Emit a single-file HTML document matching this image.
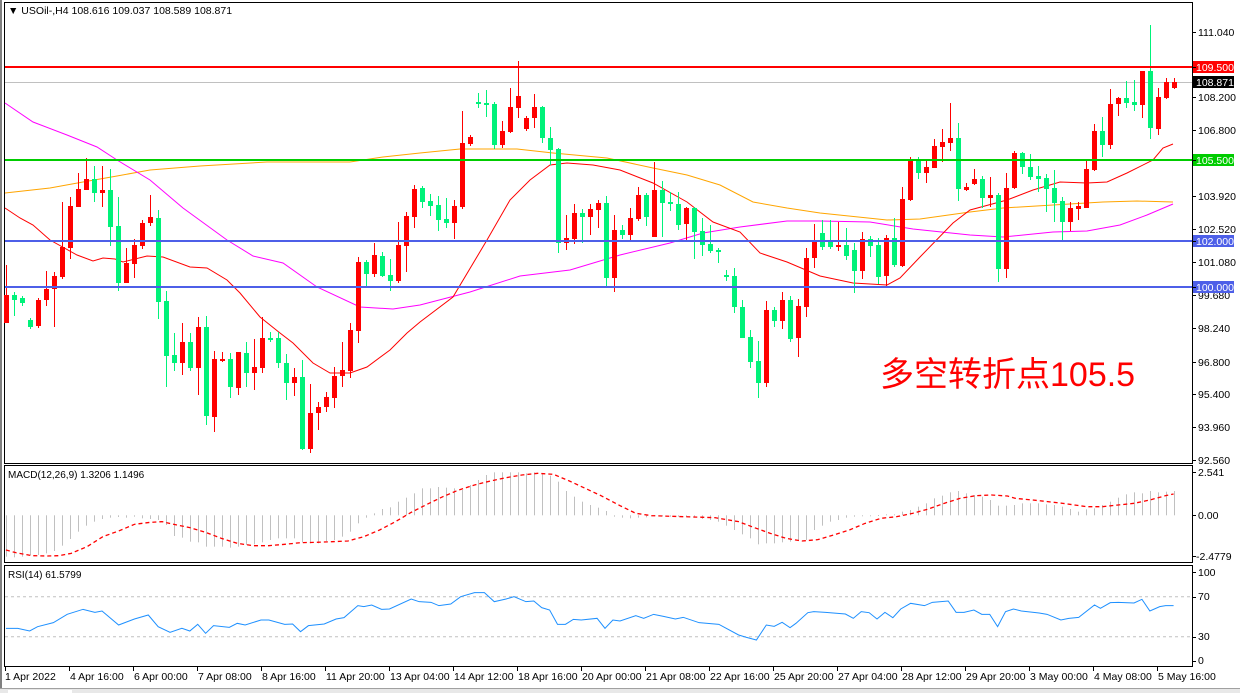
<!DOCTYPE html>
<html><head><meta charset="utf-8">
<style>
html,body{margin:0;padding:0;background:#fff;}
svg{display:block;}
text{font-family:"Liberation Sans","Noto Sans CJK SC",sans-serif;}
</style></head>
<body>
<svg id="s" width="1240" height="693" viewBox="0 0 1240 693" xmlns="http://www.w3.org/2000/svg">
<rect x="0" y="0" width="1240" height="693" fill="#fff"/>
<rect x="0" y="0" width="2" height="693" fill="#808080"/>
<!-- panels -->
<rect x="4.5" y="2.5" width="1188" height="461" fill="none" stroke="#000" stroke-width="1"/>
<rect x="4.5" y="465.5" width="1188" height="97" fill="none" stroke="#000" stroke-width="1"/>
<rect x="4.5" y="565.5" width="1188" height="101" fill="none" stroke="#000" stroke-width="1"/>
<!-- horizontal levels -->
<line x1="5" y1="82.5" x2="1192" y2="82.5" stroke="#c0c0c0" stroke-width="1"/>
<g id="ma"></g>
<g id="candles"></g>
<line x1="5" y1="67" x2="1192" y2="67" stroke="#ff0000" stroke-width="2"/>
<line x1="5" y1="160" x2="1192" y2="160" stroke="#00cc00" stroke-width="2"/>
<line x1="5" y1="241" x2="1192" y2="241" stroke="#4d5fe8" stroke-width="2"/>
<line x1="5" y1="287" x2="1192" y2="287" stroke="#4d5fe8" stroke-width="2"/>
<text x="8" y="14" font-size="10.5" fill="#000">▼ USOil-,H4  108.616 109.037 108.589 108.871</text>
<text x="880" y="386" font-size="34" fill="#ff0000">多空转折点105.5</text>
<!-- right axis -->
<g font-size="10.5" fill="#000" id="axis">
<text x="1198" y="36">111.040</text>
<text x="1198" y="101">108.200</text>
<text x="1198" y="134">106.800</text>
<text x="1198" y="200">103.920</text>
<text x="1198" y="233">102.520</text>
<text x="1198" y="266">101.080</text>
<text x="1198" y="299">99.680</text>
<text x="1198" y="332">98.240</text>
<text x="1198" y="366">96.800</text>
<text x="1198" y="398">95.400</text>
<text x="1198" y="431">93.960</text>
<text x="1198" y="464">92.560</text>
</g>
<rect x="1193" y="61" width="41" height="12" fill="#ff0000"/>
<text x="1196" y="71" font-size="10.5" fill="#fff">109.500</text>
<rect x="1193" y="76" width="41" height="12" fill="#000"/>
<text x="1196" y="86" font-size="10.5" fill="#fff">108.871</text>
<rect x="1193" y="154" width="41" height="12" fill="#00cc00"/>
<text x="1196" y="164" font-size="10.5" fill="#fff">105.500</text>
<rect x="1193" y="235" width="41" height="12" fill="#4d5fe8"/>
<text x="1196" y="245" font-size="10.5" fill="#fff">102.000</text>
<rect x="1193" y="281" width="41" height="12" fill="#4d5fe8"/>
<text x="1196" y="291" font-size="10.5" fill="#fff">100.000</text>
<!-- MACD -->
<text x="8" y="478" font-size="10" fill="#000">MACD(12,26,9) 1.3206 1.1496</text>
<text x="1198" y="476" font-size="10.5">2.541</text>
<text x="1198" y="519" font-size="10.5">0.00</text>
<text x="1196" y="560" font-size="10.5">-2.4779</text>
<g id="macd"></g>
<!-- RSI -->
<text x="8" y="578" font-size="10" fill="#000">RSI(14) 61.5799</text>
<line x1="5" y1="596.7" x2="1192" y2="596.7" stroke="#c0c0c0" stroke-dasharray="3,3"/>
<line x1="5" y1="636.7" x2="1192" y2="636.7" stroke="#c0c0c0" stroke-dasharray="3,3"/>
<text x="1198" y="576" font-size="10.5">100</text>
<text x="1198" y="600" font-size="10.5">70</text>
<text x="1198" y="640" font-size="10.5">30</text>
<text x="1198" y="664" font-size="10.5">0</text>
<g id="rsi"></g>
<!-- time axis -->
<g font-size="10.5" fill="#000">
<text x="5" y="680">1 Apr 2022</text>
<text x="70" y="680">4 Apr 16:00</text>
<text x="134" y="680">6 Apr 00:00</text>
<text x="198" y="680">7 Apr 08:00</text>
<text x="262" y="680">8 Apr 16:00</text>
<text x="326" y="680">11 Apr 20:00</text>
<text x="390" y="680">13 Apr 04:00</text>
<text x="454" y="680">14 Apr 12:00</text>
<text x="518" y="680">18 Apr 16:00</text>
<text x="582" y="680">20 Apr 00:00</text>
<text x="646" y="680">21 Apr 08:00</text>
<text x="710" y="680">22 Apr 16:00</text>
<text x="774" y="680">25 Apr 20:00</text>
<text x="838" y="680">27 Apr 04:00</text>
<text x="902" y="680">28 Apr 12:00</text>
<text x="966" y="680">29 Apr 20:00</text>
<text x="1030" y="680">3 May 00:00</text>
<text x="1094" y="680">4 May 08:00</text>
<text x="1158" y="680">5 May 16:00</text>
</g>
<g id="ticks" stroke="#000"></g>
<rect x="0" y="688" width="1240" height="5" fill="#e8e8e8"/>
<line x1="0" y1="688.5" x2="1240" y2="688.5" stroke="#a0a0a0"/>
<rect x="8" y="690" width="64" height="3" fill="#fff"/>
</svg>
<script>
var NS="http://www.w3.org/2000/svg";
function el(p,t,a){var e=document.createElementNS(NS,t);for(var k in a)e.setAttribute(k,a[k]);p.appendChild(e);return e;}
var C=[
"r 295 323 265 323","g 295 300 292 316","g 298 303 296 306","g 320 327 318 329","r 300 326 298 328","r 289 300 271 306","r 276 289 272 327","r 247 277 202 279","r 206 248 197 259","r 189 207 173 207",
"r 179 190 158 190","g 179 193 166 202","r 190 193 166 207","g 190 227 169 246","g 226 283 197 291","r 263 283 248 283","r 245 264 239 278","r 223 246 220 249","r 217 223 195 226","g 218 302 210 319",
"g 301 356 291 387","g 355 363 333 371","r 342 363 323 375","g 342 368 333 371","r 327 368 317 395","g 327 416 316 425","r 359 417 351 432","r 359 361 352 362","g 359 387 353 398","r 352 388 352 395",
"g 353 373 342 387","r 367 373 339 390","r 338 368 317 373","g 338 340 332 342","g 338 363 332 368","g 363 383 354 400","r 377 383 368 396","g 377 449 360 450","r 413 449 384 453","r 407 413 402 430",
"r 397 407 392 412","r 376 398 367 408","r 370 376 342 387","r 330 371 323 378","r 262 331 257 343","g 262 274 260 286","r 255 274 243 277","g 256 276 252 277","g 275 281 259 291","r 245 281 222 283",
"r 216 246 212 272","r 189 217 185 228","g 188 202 186 208","g 201 206 194 216","g 205 220 196 231","g 219 223 198 228","r 206 223 200 239","r 143 207 111 209","r 137 144 135 146","g 102 104 93 108",
"g 103 105 90 117","g 104 145 102 149","r 131 145 121 148","r 107 132 88 133","r 96 108 61 118","r 118 129 116 131","r 107 118 94 128","g 107 138 106 143","g 138 150 127 165","g 149 243 148 253",
"r 238 243 215 250","r 213 239 204 244","g 213 217 209 243","r 209 217 204 235","r 203 210 200 228","g 203 278 196 286","r 230 278 215 292","g 230 235 225 239","r 218 235 208 240","r 195 219 187 221",
"g 195 217 193 226","r 190 237 162 237","g 190 203 181 237","g 202 204 192 211","g 204 225 192 230","r 208 224 207 240","g 208 232 207 259","g 231 245 218 256","g 244 251 225 253","g 250 252 248 263",
"g 275 277 270 281","g 276 307 268 313","g 307 338 300 338","g 337 362 330 368","g 361 383 341 398","r 310 383 301 387","g 310 321 307 327","r 300 321 292 329","g 300 339 296 342","r 306 338 299 357",
"r 258 307 248 317","r 242 258 224 268","g 233 247 220 250","g 241 247 220 249","r 245 247 222 251","g 245 256 228 260","g 250 271 243 293","r 239 271 232 279","g 239 246 236 257","g 245 277 238 284",
"r 238 276 235 286","g 238 265 218 267","r 199 266 187 267","r 161 200 157 201","g 161 173 157 179","r 167 173 161 183","r 146 168 139 168","r 142 147 129 162","r 138 143 103 151","g 138 189 123 201",
"r 187 190 183 191","r 179 184 169 185","g 179 198 176 208","r 195 198 177 207","g 195 269 193 282","r 188 269 173 278","r 153 188 151 189","g 153 167 152 174","g 167 177 154 180","g 176 179 166 192",
"g 178 189 174 212","g 188 203 170 222","g 201 222 197 240","r 208 222 202 231","r 206 209 202 220","r 169 208 161 208","r 131 170 124 171","g 131 145 117 157","r 104 145 89 149","r 98 104 97 116",
"g 98 103 81 108","g 102 105 80 111","r 71 105 71 118","g 71 128 25 139","r 97 129 88 135","r 82 98 78 99","r 82 88 78 89"];
var cg=document.getElementById("candles");
C.forEach(function(s,i){var p=s.split(" ");var x=6+8*i;var col=p[0]=="r"?"#ff0000":"#00f27a";
var bt=+p[1],bb=+p[2],wt=+p[3],wb=+p[4];
el(cg,"rect",{x:x,y:wt,width:1,height:Math.max(1,wb-wt),fill:col});
el(cg,"rect",{x:x-2,y:bt,width:5,height:Math.max(1,bb-bt),fill:col});});
var mg=document.getElementById("ma");
function pl(g,pts,col,w,dash){var a={points:pts.map(function(p){return p[0]+","+p[1]}).join(" "),fill:"none",stroke:col,"stroke-width":w};if(dash)a["stroke-dasharray"]=dash;el(g,"polyline",a);}
pl(mg,[[5,193],[50,188],[83,182],[117,176],[150,170],[200,166],[267,162],[350,162],[383,157],[420,153],[460,149],[517,149],[553,153],[607,158],[653,168],[687,175],[720,185],[753,202],[787,208],[820,213],[887,220],[920,219],[970,212],[1003,208],[1053,205],[1103,202],[1137,201],[1173,202]],"#ffa500",1);
pl(mg,[[5,103],[33,122],[67,135],[97,147],[117,160],[150,180],[183,208],[227,240],[253,256],[283,263],[317,287],[360,307],[393,309],[420,305],[470,292],[520,276],[570,270],[620,255],[670,243],[703,233],[740,227],[787,221],[820,221],[870,222],[913,229],[970,235],[1003,237],[1053,232],[1087,231],[1120,225],[1147,215],[1173,204]],"#ff00ff",1);
pl(mg,[[5,208],[20,218],[33,225],[50,240],[77,255],[93,261],[103,258],[115,259],[123,262],[147,256],[163,257],[190,267],[207,268],[227,280],[240,293],[260,317],[280,333],[293,343],[313,363],[330,373],[350,373],[367,367],[390,350],[407,333],[420,322],[453,297],[487,240],[510,200],[530,180],[550,165],[567,163],[593,165],[620,170],[653,183],[687,202],[713,222],[740,232],[760,253],[787,262],[820,276],[853,283],[887,285],[900,278],[920,257],[953,223],[970,210],[1007,200],[1033,190],[1060,182],[1087,183],[1107,182],[1127,173],[1153,160],[1163,148],[1173,144]],"#ff0000",1);
// MACD
var H=[305,307,305,300,300,295,288,272,252,230,212,200,192,188,186,188,185,190,192,195,210,243,248,260,262,275,275,275,278,275,270,268,262,255,250,250,250,262,265,265,258,255,245,230,205,188,175,162,157,140,128,115,100,100,96,98,100,105,90,75,60,52,52,52,52,55,52,55,62,80,108,125,140,150,158,168,185,
188,190,188,187,184,184,185,185,186,188,192,195,200,212,225,238,250,268,265,265,262,260,258,255,225,212,200,195,188,185,182,182,180,178,178,170,165,155,145,130,122,112,108,115,120,125,135,152,152,150,145,145,145,148,150,155,162,170,163,160,150,140,128,118,112,115,108,112,110,108];
var m=document.getElementById("macd");var z=515.3;
H.forEach(function(v,i){var y=455+v/3;var x=6+8*i;el(m,"rect",{x:x,y:Math.min(y,z),width:1,height:Math.max(1,Math.abs(y-z)),fill:"#c0c0c0"});});
function cv(a,ox){return a.map(function(p){return [ox+p[0]/2.529,455+p[1]/3];});}
var S1=[[15,285],[40,293],[80,302],[120,303],[150,302],[180,295],[220,275],[260,245],[300,228],[340,208],[380,202],[410,200],[440,208],[480,218],[520,232],[560,250],[600,265],[640,272],[680,272],[720,268],[760,263],[800,262],[840,260],[880,258],[920,245],[960,225],[1000,200],[1040,172],[1080,148],[1120,125],[1160,105],[1200,90],[1240,78],[1280,68],[1320,60],[1360,55],[1400,58],[1440,78],[1480,100],[1520,122],[1568,152]];
var S2=[[40,175],[80,182],[160,185],[240,188],[300,200],[340,218],[380,235],[420,250],[460,258],[500,254],[540,240],[580,225],[620,205],[660,190],[700,185],[740,175],[780,162],[820,145],[860,130],[900,122],[940,120],[980,123],[1000,130],[1060,137],[1120,145],[1180,155],[1220,155],[1260,150],[1300,145],[1340,135],[1380,122],[1400,117]];
pl(m,cv(S1,0).concat(cv(S2,620)),"#ff0000",1.3,"4,3");
var R1=[[15,520],[45,520],[75,528],[95,515],[135,503],[170,478],[210,463],[240,472],[258,468],[300,510],[340,492],[375,480],[400,515],[430,532],[460,520],[480,528],[500,508],[520,535],[540,512],[580,517],[600,505],[620,510],[660,495],[680,495],[720,508],[740,507],[760,530],[780,512],[820,507],[850,492],[870,488],[905,452],[920,455],[940,450],[965,463],[985,462],[1040,432],[1060,440],[1090,442],[1110,452],[1140,447],[1165,425],[1200,413],[1225,413],[1250,440],[1280,432],[1300,425],[1330,440],[1350,438],[1370,458],[1390,465],[1410,508],[1430,508],[1450,493],[1470,495],[1510,490],[1530,520],[1550,495],[1568,498]];
var R2=[[40,482],[60,490],[85,478],[110,484],[140,492],[160,487],[200,503],[250,508],[300,540],[320,547],[345,555],[370,510],[390,514],[410,502],[430,518],[445,505],[475,473],[490,470],[520,472],[570,477],[590,490],[610,470],[630,473],[650,492],[670,472],[690,488],[710,462],[735,445],[770,452],[790,442],[830,438],[850,472],[870,472],[895,465],[915,478],[935,478],[955,515],[975,470],[995,462],[1015,468],[1060,474],[1080,478],[1115,495],[1135,490],[1160,487],[1200,450],[1215,460],[1240,443],[1260,442],[1300,444],[1320,433],[1340,468],[1365,455],[1380,452],[1400,452]];
pl(document.getElementById("rsi"),cv(R1,0).concat(cv(R2,620)),"#1e90ff",1);
var tg=document.getElementById("ticks");
[32,67,82,97,130,160,196,229,241,262,287,295,328,362,394,427,460,472,515,556,572,597,637,661].forEach(function(y){el(tg,"line",{x1:1193,y1:y+.5,x2:1196,y2:y+.5});});
[5,69,133,197,261,325,389,453,517,581,645,709,773,837,901,965,1029,1093,1157].forEach(function(x){el(tg,"line",{x1:x+.5,y1:667,x2:x+.5,y2:671});});
</script>
</body></html>
